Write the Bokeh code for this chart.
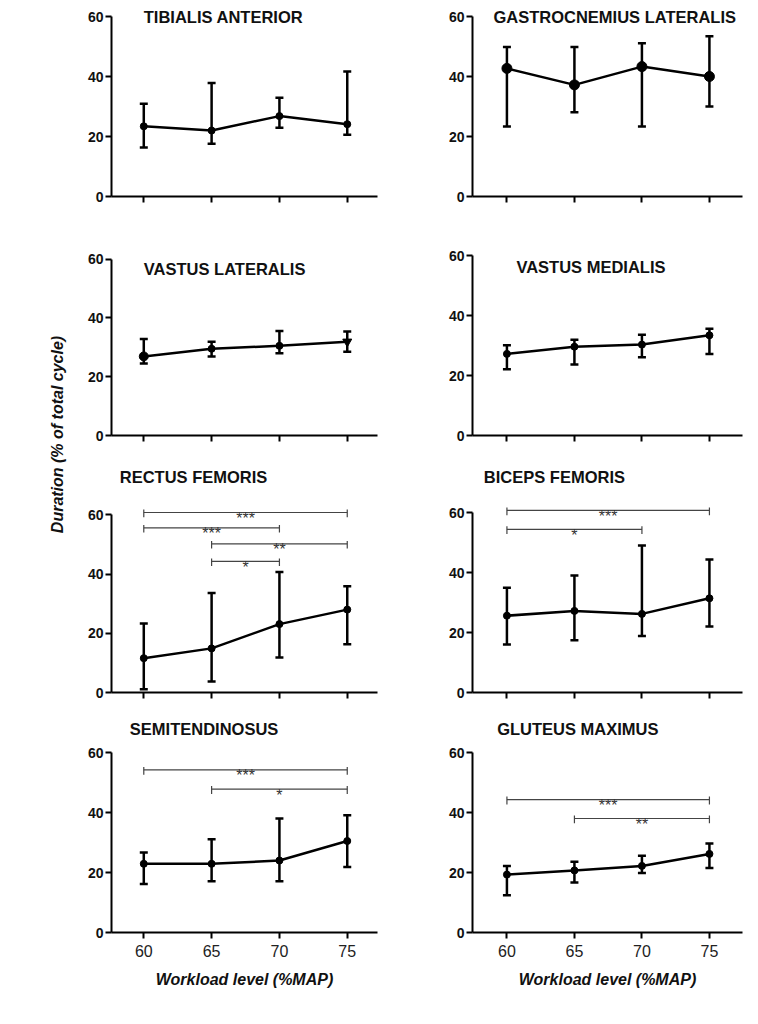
from math import pi
from bokeh.plotting import figure
from bokeh.layouts import row, column
from bokeh.models import ColumnDataSource, Whisker, TeeHead, FixedTicker
from bokeh.core.properties import value
from bokeh.embed import file_html
from bokeh.resources import INLINE

# ---------------- data ----------------
workload = [60, 65, 70, 75]
y_ticks = [0, 20, 40, 60]
x_label = "Workload level (%MAP)"
y_label = "Duration (% of total cycle)"

ta_name = "TIBIALIS ANTERIOR"
ta_mean = [23.4, 22.0, 26.8, 24.1]
ta_upper = [30.9, 37.8, 32.9, 41.7]
ta_lower = [16.3, 17.6, 22.9, 20.6]

gl_name = "GASTROCNEMIUS LATERALIS"
gl_mean = [42.7, 37.2, 43.3, 40.0]
gl_upper = [49.8, 49.8, 51.1, 53.4]
gl_lower = [23.3, 28.1, 23.3, 30.0]

vl_name = "VASTUS LATERALIS"
vl_mean = [26.9, 29.5, 30.5, 31.9]
vl_upper = [32.8, 31.9, 35.5, 35.4]
vl_lower = [24.5, 26.9, 28.0, 28.5]

vm_name = "VASTUS MEDIALIS"
vm_mean = [27.2, 29.6, 30.3, 33.4]
vm_upper = [30.1, 31.9, 33.6, 35.6]
vm_lower = [22.1, 23.7, 26.1, 27.2]

rf_name = "RECTUS FEMORIS"
rf_mean = [11.6, 14.9, 23.1, 28.0]
rf_upper = [23.3, 33.6, 40.7, 35.9]
rf_lower = [1.1, 3.7, 11.8, 16.3]
rf_sig_from = [60, 60, 65, 65]
rf_sig_to = [75, 70, 75, 70]
rf_sig_y = [60.8, 55.6, 50.2, 44.3]
rf_sig_label = ["***", "***", "**", "*"]

bf_name = "BICEPS FEMORIS"
bf_mean = [25.6, 27.2, 26.2, 31.4]
bf_upper = [34.9, 39.0, 49.0, 44.3]
bf_lower = [16.0, 17.4, 18.8, 22.0]
bf_sig_from = [60, 60]
bf_sig_to = [75, 70]
bf_sig_y = [60.7, 54.4]
bf_sig_label = ["***", "*"]

st_name = "SEMITENDINOSUS"
st_mean = [22.9, 22.9, 24.0, 30.5]
st_upper = [26.7, 31.1, 38.0, 39.1]
st_lower = [16.2, 17.1, 17.1, 21.8]
st_sig_from = [60, 65]
st_sig_to = [75, 75]
st_sig_y = [54.2, 47.8]
st_sig_label = ["***", "*"]

gm_name = "GLUTEUS MAXIMUS"
gm_mean = [19.3, 20.7, 22.2, 26.2]
gm_upper = [22.2, 23.6, 25.6, 29.7]
gm_lower = [12.4, 16.7, 19.8, 21.5]
gm_sig_from = [60, 65]
gm_sig_to = [75, 75]
gm_sig_y = [44.3, 38.0]
gm_sig_label = ["***", "**"]

# ---------------- styling / layout ----------------
FONT = "Liberation Sans"
PX_PER_UNIT = 3.0
LEFT = dict(width=360, bl=43, br=51, xr=(57.62, 77.23))
RIGHT = dict(width=322, bl=44, br=8, xr=(57.45, 77.45))
ROW_H = [223, 240, 245, 295]
YLAB_W = 68


def panel(col, height, bt, fh, name, title_xy, mean, upper, lower,
          sig=None, bottom=False, msize=7, markers=None, sizes=None):
    ymax = fh / PX_PER_UNIT
    p = figure(width=col["width"], height=height, title=None,
               x_range=col["xr"], y_range=(0, ymax),
               min_border_left=col["bl"], min_border_right=col["br"],
               min_border_top=bt, min_border_bottom=height - bt - fh,
               toolbar_location=None, output_backend="svg", tools="")
    p.outline_line_color = None
    p.xgrid.visible = False
    p.ygrid.visible = False
    p.background_fill_color = "white"
    p.border_fill_color = "white"

    ya = p.yaxis[0]
    ya.ticker = FixedTicker(ticks=y_ticks)
    ya.bounds = (0, 60)
    ya.axis_line_width = 2
    ya.axis_line_color = "black"
    ya.major_tick_line_width = 2
    ya.major_tick_out = 6
    ya.major_tick_in = 0
    ya.minor_tick_out = 0
    ya.minor_tick_in = 0
    ya.major_label_text_font = FONT
    ya.major_label_text_font_style = "bold"
    ya.major_label_text_font_size = "14px"
    ya.major_label_text_color = "#111111"
    ya.major_label_standoff = 2

    xa = p.xaxis[0]
    xa.axis_line_width = 2
    xa.axis_line_color = "black"
    if bottom:
        xa.ticker = FixedTicker(ticks=workload)
        xa.major_tick_line_width = 2
        xa.major_tick_out = 6
        xa.major_tick_in = 0
        xa.minor_tick_out = 0
        xa.minor_tick_in = 0
        xa.major_label_text_font = "'Liberation Sans Narrow', 'Liberation Sans', sans-serif"
        xa.major_label_text_font_size = "16px"
        xa.major_label_text_color = "#222222"
        xa.major_label_standoff = 6
        xa.axis_label = x_label
        xa.axis_label_text_font = FONT
        xa.axis_label_text_font_style = "bold italic"
        xa.axis_label_text_font_size = "16px"
        xa.axis_label_text_color = "#111111"
        xa.axis_label_standoff = 11
    else:
        # tick marks only (no labels): draw them as minor ticks
        xa.ticker = FixedTicker(ticks=[], minor_ticks=workload)
        xa.major_tick_out = 0
        xa.major_tick_in = 0
        xa.minor_tick_line_width = 2
        xa.minor_tick_line_color = "black"
        xa.minor_tick_out = 6
        xa.minor_tick_in = 0

    # title
    p.text(x=[title_xy[0]], y=[title_xy[1]], text=[name],
           text_font=value(FONT), text_font_style="bold",
           text_font_size="16.5px", text_align="left",
           text_baseline="middle", text_color="#111111")

    # significance brackets
    if sig is not None:
        s_from, s_to, s_y, s_lab = sig
        mids = [(a + b) / 2 for a, b in zip(s_from, s_to)]
        p.segment(x0=s_from, y0=s_y, x1=s_to, y1=s_y,
                  line_color="#444444", line_width=1.2)
        p.segment(x0=s_from, y0=[v + 1.0 for v in s_y], x1=s_from,
                  y1=[v - 1.6 for v in s_y], line_color="#444444", line_width=1.2)
        p.segment(x0=s_to, y0=[v + 1.0 for v in s_y], x1=s_to,
                  y1=[v - 1.6 for v in s_y], line_color="#444444", line_width=1.2)
        p.text(x=mids, y=s_y, text=s_lab, text_align="center",
               text_baseline="alphabetic", y_offset=6,
               text_font=value(FONT), text_font_size="16px",
               text_color="#333333")

    src = ColumnDataSource(dict(x=workload, mean=mean, upper=upper, lower=lower,
                                marker=markers or ["circle"] * len(workload),
                                size=sizes or [msize] * len(workload)))
    w = Whisker(source=src, base="x", upper="upper", lower="lower",
                line_width=2.5, line_color="black",
                upper_head=TeeHead(size=8, line_width=2.5, line_color="black"),
                lower_head=TeeHead(size=8, line_width=2.5, line_color="black"),
                level="glyph")
    p.add_layout(w)
    p.line(x="x", y="mean", source=src, line_width=2.5, line_color="black")
    p.scatter(x="x", y="mean", source=src, marker="marker", size="size",
              fill_color="black", line_color="black")
    return p


p_ta = panel(LEFT, ROW_H[0], 8, 188, ta_name, (60.0, 60.0), ta_mean, ta_upper, ta_lower)
p_gl = panel(RIGHT, ROW_H[0], 8, 188, gl_name, (59.0, 60.0), gl_mean, gl_upper, gl_lower,
             msize=10)
p_vl = panel(LEFT, ROW_H[1], 15, 201, vl_name, (60.0, 56.6), vl_mean, vl_upper, vl_lower,
             markers=["circle", "circle", "circle", "inverted_triangle"],
             sizes=[9, 7, 7, 9])
p_vm = panel(RIGHT, ROW_H[1], 15, 197, vm_name, (60.7, 56.3), vm_mean, vm_upper, vm_lower)
p_rf = panel(LEFT, ROW_H[2], 3, 229, rf_name, (58.23, 72.8), rf_mean, rf_upper, rf_lower,
             sig=(rf_sig_from, rf_sig_to, rf_sig_y, rf_sig_label))
p_bf = panel(RIGHT, ROW_H[2], 3, 226, bf_name, (58.29, 71.7), bf_mean, bf_upper, bf_lower,
             sig=(bf_sig_from, bf_sig_to, bf_sig_y, bf_sig_label))
p_st = panel(LEFT, ROW_H[3], 5, 219, st_name, (58.97, 67.8), st_mean, st_upper, st_lower,
             sig=(st_sig_from, st_sig_to, st_sig_y, st_sig_label), bottom=True)
p_gm = panel(RIGHT, ROW_H[3], 5, 219, gm_name, (59.28, 67.8), gm_mean, gm_upper, gm_lower,
             sig=(gm_sig_from, gm_sig_to, gm_sig_y, gm_sig_label), bottom=True)

TOTAL_H = sum(ROW_H)
ylab = figure(width=YLAB_W, height=TOTAL_H, title=None, x_range=(0, YLAB_W),
              y_range=(0, TOTAL_H), x_axis_type=None, y_axis_type=None, min_border=0,
              min_border_left=0, min_border_right=0, min_border_top=0, min_border_bottom=0,
              toolbar_location=None, output_backend="svg", tools="")
ylab.outline_line_color = None
ylab.xgrid.visible = False
ylab.ygrid.visible = False
ylab.text(x=[57], y=[TOTAL_H - 434], text=[y_label], angle=pi / 2,
          text_font=value(FONT), text_font_style="bold italic", text_font_size="16px",
          text_align="center", text_baseline="middle", text_color="#111111")

grid = column(row(p_ta, p_gl), row(p_vl, p_vm), row(p_rf, p_bf), row(p_st, p_gm))
layout = row(ylab, grid)

open("out.html", "w").write(file_html(layout, INLINE))
